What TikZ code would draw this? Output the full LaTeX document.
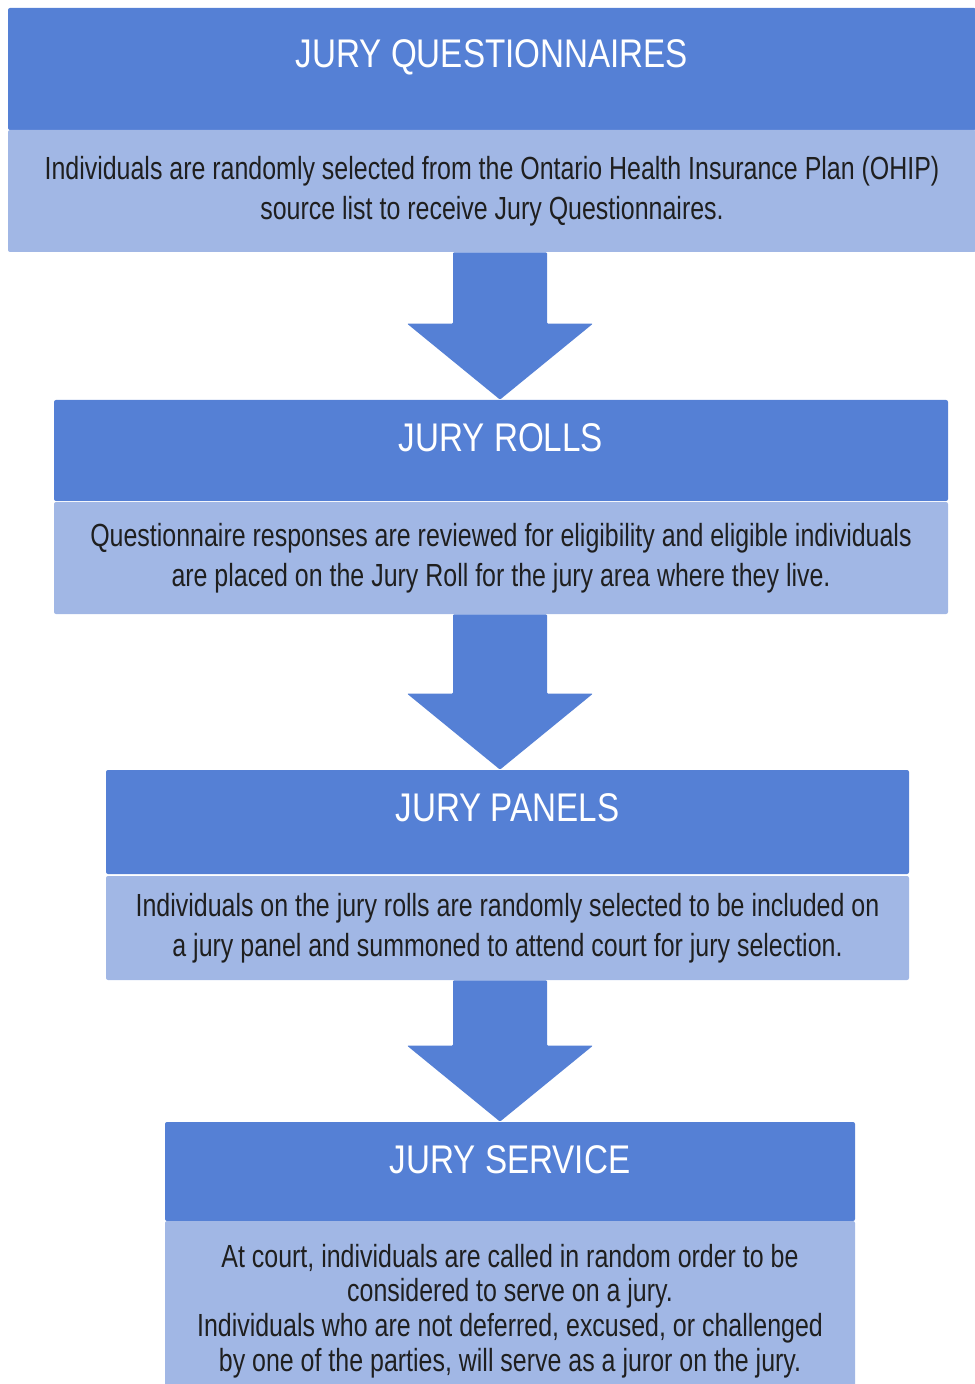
\documentclass[tikz,border=0pt]{standalone}
\usepackage{fontspec}
\setmainfont{Liberation Sans}[FakeStretch=0.78]
\newfontfamily\titlefont{Liberation Sans}[FakeStretch=0.83]
\usepackage{tikz}
\usepackage{xcolor}
\usetikzlibrary{calc}
\definecolor{stepblue}{RGB}{85,128,213}
\definecolor{steplight}{RGB}{161,183,229}
\tikzset{
    title-box/.style = {fill=stepblue, rectangle, rounded corners=1pt, inner sep=0pt},
    body-box/.style = {fill=steplight, rectangle, rounded corners=1pt, inner sep=0pt, align=center, text=black!88,
        font=\fontsize{16pt}{20pt}\selectfont},
    title-text/.style = {text=white, inner sep=0pt, text height=14.3pt, text depth=0pt,
        font=\titlefont\fontsize{20pt}{24pt}\selectfont},
    block-arrow/.style = {fill=stepblue, rounded corners=0.5pt},
}

\begin{document}
\begin{tikzpicture}[x=0.5pt, y=-0.5pt]
\useasboundingbox (0,0) rectangle (974,1384);
\coordinate (axis) at (500,0);

% jury questionnaires
\node [title-box, minimum width=484pt, minimum height=61pt] (t1) at (492,69) {};
\node [title-text] at ([yshift=-23pt]t1.north) {JURY QUESTIONNAIRES};
\node [body-box, minimum width=484pt, minimum height=61pt] (b1) at (492,191)
    {Individuals are randomly selected from the Ontario Health Insurance Plan (OHIP)\\
     source list to receive Jury Questionnaires.};

% jury rolls
\node [title-box, minimum width=447pt, minimum height=50.5pt] (t2) at (501,450.5) {};
\node [title-text] at ([yshift=-19pt]t2.north) {JURY ROLLS};
\node [body-box, minimum width=447pt, minimum height=56pt] (b2) at (501,558)
    {Questionnaire responses are reviewed for eligibility and eligible individuals\\
     are placed on the Jury Roll for the jury area where they live.};

% jury panels
\node [title-box, minimum width=401.5pt, minimum height=52pt] (t3) at (507.5,822) {};
\node [title-text] at ([yshift=-19pt]t3.north) {JURY PANELS};
\node [body-box, minimum width=401.5pt, minimum height=52pt] (b3) at (507.5,928)
    {Individuals on the jury rolls are randomly selected to be included on\\
     a jury panel and summoned to attend court for jury selection.};

% jury service
\node [title-box, minimum width=345pt, minimum height=49.5pt] (t4) at (510,1171.5) {};
\node [title-text] at ([yshift=-19pt]t4.north) {JURY SERVICE};
\node [body-box, minimum width=345pt, minimum height=90pt, font=\fontsize{16pt}{17.4pt}\selectfont] (b4) at (510,1311)
    {At court, individuals are called in random order to be\\
     considered to serve on a jury.\\
     Individuals who are not deferred, excused, or challenged\\
     by one of the parties, will serve as a juror on the jury.};

% arrows between the steps
\foreach \from/\to in {b1/t2, b2/t3, b3/t4} {
    \fill [block-arrow] ([xshift=-23.5pt]\from.south -| axis)
        -- ([xshift=-23.5pt, yshift=38pt]\to.north -| axis)
        -- ([xshift=-46.5pt, yshift=38pt]\to.north -| axis)
        -- (\to.north -| axis)
        -- ([xshift=46.5pt, yshift=38pt]\to.north -| axis)
        -- ([xshift=23.5pt, yshift=38pt]\to.north -| axis)
        -- ([xshift=23.5pt]\from.south -| axis) -- cycle;
}
\end{tikzpicture}
\end{document}
